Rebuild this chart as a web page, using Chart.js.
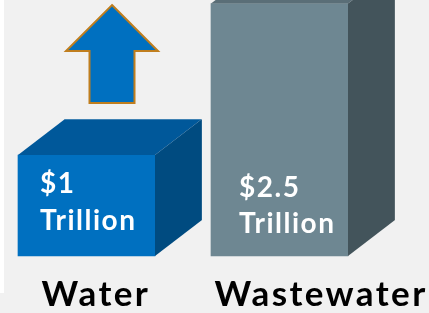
<!DOCTYPE html>
<html>
<head>
<meta charset="utf-8">
<title>Water vs Wastewater</title>
<script src="https://cdn.jsdelivr.net/npm/chart.js@4"></script>
<style>
  body { margin: 0; background: #f1f1f1; }
  #strip { position: absolute; left: 0; top: 0; width: 4px; height: 293px; background: #fff; }
  #wrap { position: absolute; left: 0; top: 0; width: 429px; height: 313px; }
</style>
</head>
<body>
<div id="strip"></div>
<div id="wrap"><canvas id="chart"></canvas></div>
<script>
// data
var categories = ['Water', 'Wastewater'];
var needs = [1, 2.5];                       // trillion $
var valueLines = [['$1', 'Trillion'], ['$2.5', 'Trillion']];
var arrowFrom = 1.515, arrowTo = 2.485;     // "growing" arrow above the water bar

// colours for the three faces of each box
var frontColors = ['#0070c0', '#6e8792'];
var topColors   = ['#00589a', '#5a6e77'];
var sideColors  = ['#004b80', '#43545b'];

var depthX = 47, depthY = 36;
var labelInset = [22, 28];
var fontFam = 'Lato, "DejaVu Sans", sans-serif';

var boxPlugin = {
  id: 'boxPlugin',
  afterDatasetsDraw: function (chart) {
    var c = chart.ctx;
    var bars = chart.getDatasetMeta(0).data;
    c.save();
    for (var i = 0; i < bars.length; i++) {
      var b = bars[i];
      var l = b.x - b.width / 2, r = b.x + b.width / 2, t = b.y, btm = b.base;
      // top face
      c.beginPath();
      c.moveTo(l, t);
      c.lineTo(l + depthX, t - depthY);
      c.lineTo(r + depthX, t - depthY);
      c.lineTo(r, t);
      c.closePath();
      c.fillStyle = topColors[i];
      c.fill();
      // side face
      c.beginPath();
      c.moveTo(r, t);
      c.lineTo(r + depthX, t - depthY);
      c.lineTo(r + depthX, btm - depthY);
      c.lineTo(r, btm);
      c.closePath();
      c.fillStyle = sideColors[i];
      c.fill();
      // faint light edges
      c.strokeStyle = 'rgba(255,255,255,0.25)';
      c.lineWidth = 1;
      c.beginPath();
      c.moveTo(l + depthX, t - depthY + 0.5);
      c.lineTo(r + depthX, t - depthY + 0.5);
      c.lineTo(r + depthX, btm - depthY);
      c.stroke();
    }
    c.restore();
  },
  afterDraw: function (chart) {
    var c = chart.ctx;
    var bars = chart.getDatasetMeta(0).data;
    var y = chart.scales.y;
    c.save();

    // value text inside front faces
    c.fillStyle = '#ffffff';
    c.font = 'bold 28px ' + fontFam;
    c.letterSpacing = '1.5px';
    c.textAlign = 'left';
    c.textBaseline = 'alphabetic';
    for (var i = 0; i < bars.length; i++) {
      var l = bars[i].x - bars[i].width / 2 + labelInset[i];
      c.fillText(valueLines[i][0], l, y.getPixelForValue(0.62) + (i ? 4 : 0));
      c.fillText(valueLines[i][1], l, y.getPixelForValue(0.26) + (i ? 3 : 0));
    }

    // category names under the boxes
    c.fillStyle = '#000000';
    c.font = 'bold 35px ' + fontFam;
    c.letterSpacing = '2.4px';
    var under = [bars[0].x - 45, bars[1].x - 65];
    for (var j = 0; j < categories.length; j++) {
      c.fillText(categories[j], under[j], 306);
    }
    c.letterSpacing = '0px';

    // arrow
    var ax = bars[0].x + depthX / 2 + 2;
    var yTip = y.getPixelForValue(arrowTo);
    var yBot = y.getPixelForValue(arrowFrom);
    var yHead = yTip + (yBot - yTip) * 0.47;
    c.beginPath();
    c.moveTo(ax, yTip);
    c.lineTo(ax + 46, yHead);
    c.lineTo(ax + 22.5, yHead);
    c.lineTo(ax + 22.5, yBot);
    c.lineTo(ax - 22.5, yBot);
    c.lineTo(ax - 22.5, yHead);
    c.lineTo(ax - 46, yHead);
    c.closePath();
    c.fillStyle = '#0070c0';
    c.fill();
    c.lineWidth = 2;
    c.lineJoin = 'miter';
    c.strokeStyle = '#c07e1e';
    c.stroke();
    c.restore();
  }
};

new Chart(document.getElementById('chart'), {
  type: 'bar',
  data: {
    labels: categories,
    datasets: [{
      data: needs,
      backgroundColor: frontColors,
      borderWidth: 0,
      barThickness: 137,
      clip: false
    }]
  },
  options: {
    responsive: true,
    maintainAspectRatio: false,
    animation: false,
    devicePixelRatio: 1,
    layout: { padding: { left: 86.5, right: 149.5, top: 0, bottom: 57 } },
    plugins: { legend: { display: false }, tooltip: { enabled: false } },
    scales: {
      x: { display: false, offset: false },
      y: { display: false, min: 0, max: 2.535 }
    }
  },
  plugins: [boxPlugin]
});
</script>
</body>
</html>
